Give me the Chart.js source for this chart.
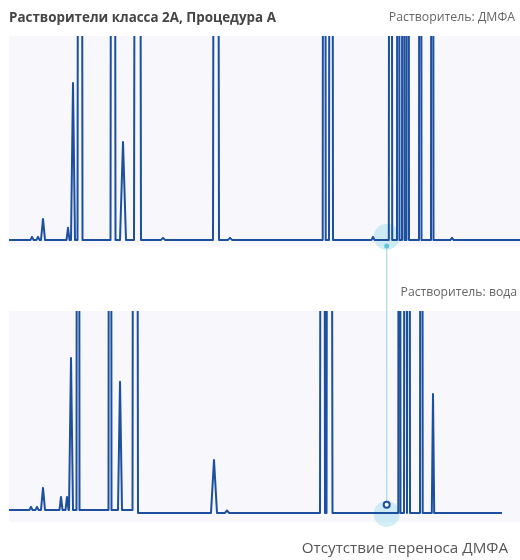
<!DOCTYPE html>
<html>
<head>
<meta charset="utf-8">
<script src="https://cdn.jsdelivr.net/npm/chart.js@4"></script>
<style>
  body { margin: 0; background: #fff; }
  #wrap { position: relative; width: 520px; height: 560px; font-family: "Open Sans", "Noto Sans", sans-serif; }
  canvas { position: absolute; left: 0; }
  .lbl { position: absolute; white-space: nowrap; z-index: 2; }
</style>
</head>
<body>
<div id="wrap">
  <canvas id="chartTop" width="520" height="250" style="top:0"></canvas>
  <canvas id="chartBottom" width="520" height="310" style="top:250px"></canvas>
  <div class="lbl" style="left:9px; top:8px; font-size:13.4px; font-weight:bold; color:#444;">Растворители класса 2А, Процедура А</div>
  <div class="lbl" style="right:5px; top:8px; font-size:12.3px; color:#666;">Растворитель: ДМФА</div>
  <div class="lbl" style="right:3px; top:283px; font-size:12.2px; color:#666;">Растворитель: вода</div>
  <div class="lbl" style="right:12px; top:537px; font-size:15.2px; color:#555;">Отсутствие переноса ДМФА</div>
</div>
<script>
// retention time (arbitrary min) and detector signal; 1000 = off scale
var topTime = [0, 2.15,2.3,2.45, 2.75,2.9,3.05, 3.2,3.4,3.6, 5.75,5.9,6.05, 6.2,6.4,6.6, 6.85,7.1,7.35,
  10.15,10.4,10.65, 11.1,11.4,11.7, 12.5,12.85,13.2, 15.2,15.4,15.6, 20.4,20.7,21.0, 21.9,22.1,22.3,
  31.37,31.52,31.67, 32.0,32.2,32.4, 36.25,36.4,36.55, 37.98,38.15,38.32, 38.8,38.92,39.05,
  39.3,39.42,39.55, 39.75,39.87,40.0, 41.0,41.12,41.25, 42.2,42.32,42.45, 44.15,44.3,44.45, 51.1];
var topSignal = [0, 0,1.5,0, 0,1.5,0, 0,10.3,0, 0,5.9,0, 0,77,0, 0,1000,0,
  0,1000,0, 0,48,0, 0,1000,0, 0,1,0, 0,1000,0, 0,1,0,
  0,1000,0, 0,1000,0, 0,1.5,0, 0,1000,0, 0,1000,0,
  0,1000,0, 0,1000,0, 0,1000,0, 0,1000,0, 0,1,0, 0];

var bottomTime = [0, 2.05,2.2,2.35, 2.65,2.8,2.95, 3.2,3.4,3.6, 5.05,5.2,5.35, 5.65,5.8,5.95, 6.0,6.2,6.4,
  6.75,6.9,7.05, 9.95,10.1,10.25, 10.9,11.1,11.3, 12.35,12.6,12.9, 20.2,20.5,20.8, 21.6,21.8,22.0,
  31.1,31.35,31.6, 31.75,32.0,32.35, 38.93,39.03,39.15, 39.5,39.65,39.8, 39.9,40.0,40.1,
  41.1,41.24,41.37, 42.28,42.4,42.52, 49.3];
var bottomSignal = [1.5, 1.5,3,1.5, 1.5,3,1.5, 1.5,12.4,1.5, 1.5,7.9,1.5, 1.5,7.9,1.5, 1.5,76.7,1.5,
  1.5,1000,1.5, 1.5,1000,1.5, 1.5,64.9,1.5, 1.5,1000,0, 0,26.2,0, 0,1.2,0,
  0,1000,0, 0,1000,0, 0,1000,0, 0,1000,0, 0,1000,0,
  0,1000,0, 0,58.9,0, 0];

// DMF retention time marker
var markTime = 37.77;
var topMark = [1.5];        // highlight circle
var topDot = [-3];          // connector start
var topLink = [-3, -8];
var bottomLink = [132, 4];
var bottomRing = [4];
var bottomMark = [-0.5];

var traceColor = '#1d4f9f';
var haloColor = 'rgba(165, 222, 238, 0.5)';
var linkColor = '#a6dbe8';

function pts(xs, ys) {
  return ys.map(function (y, i) { return { x: xs[i], y: y }; });
}
function atMark(ys) {
  return ys.map(function (y) { return { x: markTime, y: y }; });
}

var bgPlugin = {
  id: 'plotBg',
  beforeDraw: function (chart) {
    var a = chart.chartArea, c = chart.ctx;
    c.save();
    c.fillStyle = '#f7f7fc';
    c.fillRect(a.left, a.top, a.right - a.left, a.bottom - a.top);
    c.restore();
  }
};

function options(yMin, pad) {
  return {
    responsive: false,
    animation: false,
    events: [],
    layout: { padding: pad, autoPadding: false },
    plugins: { legend: { display: false }, tooltip: { enabled: false } },
    scales: {
      x: { type: 'linear', min: 0, max: 51.1, display: false },
      y: { min: yMin, max: 100, display: false }
    }
  };
}

new Chart(document.getElementById('chartTop'), {
  type: 'line',
  data: {
    datasets: [
      { data: pts(topTime, topSignal), borderColor: traceColor, borderWidth: 2, pointRadius: 0, borderJoinStyle: 'round', tension: 0 },
      { data: atMark(topDot), showLine: false, pointRadius: 2.5, pointBackgroundColor: '#5cc6dc', pointBorderWidth: 0, clip: false },
      { data: atMark(topLink), borderColor: linkColor, borderWidth: 1.2, pointRadius: 0, clip: false },
      { data: atMark(topMark), showLine: false, pointRadius: 13, pointBackgroundColor: haloColor, pointBorderWidth: 0, clip: false }
    ]
  },
  options: options(-3, { left: 9, right: 0, top: 36, bottom: 4 }),
  plugins: [bgPlugin]
});

new Chart(document.getElementById('chartBottom'), {
  type: 'line',
  data: {
    datasets: [
      { data: pts(bottomTime, bottomSignal), borderColor: traceColor, borderWidth: 2, pointRadius: 0, borderJoinStyle: 'round', tension: 0 },
      { data: atMark(bottomRing), showLine: false, pointRadius: 3, pointBackgroundColor: '#fff', pointBorderColor: traceColor, pointBorderWidth: 2, clip: false },
      { data: atMark(bottomLink), borderColor: linkColor, borderWidth: 1.2, pointRadius: 0, clip: false },
      { data: atMark(bottomMark), showLine: false, pointRadius: 13, pointBackgroundColor: haloColor, pointBorderWidth: 0, clip: false }
    ]
  },
  options: options(-4.5, { left: 9, right: 0, top: 61, bottom: 38 }),
  plugins: [bgPlugin]
});
</script>
</body>
</html>
